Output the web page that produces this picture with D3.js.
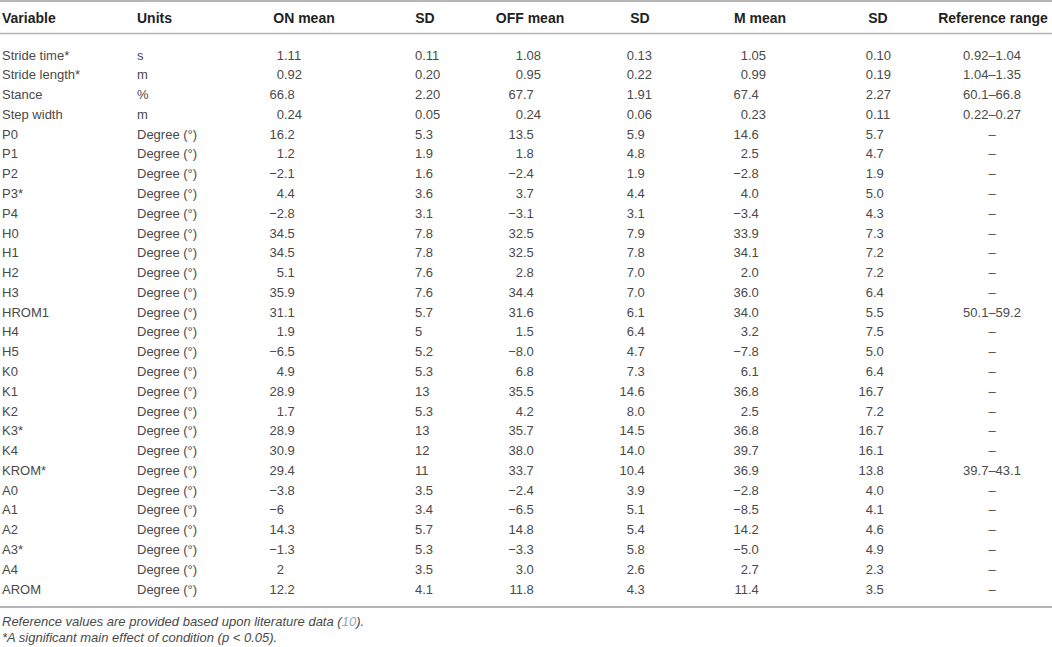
<!DOCTYPE html>
<html>
<head>
<meta charset="utf-8">
<script src="https://cdn.jsdelivr.net/npm/d3@7"></script>
<style>
  body { margin: 0; background: #fff; }
  svg text { font-family: "Liberation Sans", Arial, Helvetica, sans-serif; }
</style>
</head>
<body>
<div class="table"></div>
<script>
// table values as printed
const variables = ['Stride time*', 'Stride length*', 'Stance', 'Step width', 'P0', 'P1', 'P2', 'P3*', 'P4',
  'H0', 'H1', 'H2', 'H3', 'HROM1', 'H4', 'H5', 'K0', 'K1', 'K2', 'K3*', 'K4', 'KROM*',
  'A0', 'A1', 'A2', 'A3*', 'A4', 'AROM'];
const units = ['s', 'm', '%', 'm'].concat(d3.range(24).map(() => 'Degree (°)'));
const onMean = ['1.11', '0.92', '66.8', '0.24', '16.2', '1.2', '−2.1', '4.4', '−2.8',
  '34.5', '34.5', '5.1', '35.9', '31.1', '1.9', '−6.5', '4.9', '28.9', '1.7', '28.9', '30.9', '29.4',
  '−3.8', '−6', '14.3', '−1.3', '2', '12.2'];
const onSD = ['0.11', '0.20', '2.20', '0.05', '5.3', '1.9', '1.6', '3.6', '3.1',
  '7.8', '7.8', '7.6', '7.6', '5.7', '5', '5.2', '5.3', '13', '5.3', '13', '12', '11',
  '3.5', '3.4', '5.7', '5.3', '3.5', '4.1'];
const offMean = ['1.08', '0.95', '67.7', '0.24', '13.5', '1.8', '−2.4', '3.7', '−3.1',
  '32.5', '32.5', '2.8', '34.4', '31.6', '1.5', '−8.0', '6.8', '35.5', '4.2', '35.7', '38.0', '33.7',
  '−2.4', '−6.5', '14.8', '−3.3', '3.0', '11.8'];
const offSD = ['0.13', '0.22', '1.91', '0.06', '5.9', '4.8', '1.9', '4.4', '3.1',
  '7.9', '7.8', '7.0', '7.0', '6.1', '6.4', '4.7', '7.3', '14.6', '8.0', '14.5', '14.0', '10.4',
  '3.9', '5.1', '5.4', '5.8', '2.6', '4.3'];
const mMean = ['1.05', '0.99', '67.4', '0.23', '14.6', '2.5', '−2.8', '4.0', '−3.4',
  '33.9', '34.1', '2.0', '36.0', '34.0', '3.2', '−7.8', '6.1', '36.8', '2.5', '36.8', '39.7', '36.9',
  '−2.8', '−8.5', '14.2', '−5.0', '2.7', '11.4'];
const mSD = ['0.10', '0.19', '2.27', '0.11', '5.7', '4.7', '1.9', '5.0', '4.3',
  '7.3', '7.2', '7.2', '6.4', '5.5', '7.5', '5.0', '6.4', '16.7', '7.2', '16.7', '16.1', '13.8',
  '4.0', '4.1', '4.6', '4.9', '2.3', '3.5'];
const refRange = ['0.92–1.04', '1.04–1.35', '60.1–66.8', '0.22–0.27', '–', '–', '–', '–', '–',
  '–', '–', '–', '–', '50.1–59.2', '–', '–', '–', '–', '–', '–', '–', '39.7–43.1',
  '–', '–', '–', '–', '–', '–'];
const headers = ['Variable', 'Units', 'ON mean', 'SD', 'OFF mean', 'SD', 'M mean', 'SD', 'Reference range'];

const width = 1052, height = 647;
const textColor = '#4a4a4a';

// column layout: align = left | dec | center
const columns = [
  { values: variables, align: 'left', x: 2, hx: 2, hanchor: 'start' },
  { values: units, align: 'left', x: 137, hx: 137, hanchor: 'start' },
  { values: onMean, align: 'dec', x: 284, hx: 304 },
  { values: onSD, align: 'left', x: 415, hx: 425 },
  { values: offMean, align: 'dec', x: 523, hx: 530 },
  { values: offSD, align: 'dec', x: 634, hx: 640 },
  { values: mMean, align: 'dec', x: 748, hx: 760 },
  { values: mSD, align: 'dec', x: 873, hx: 878 },
  { values: refRange, align: 'center', x: 992, hx: 993 }
];

const svg = d3.select('.table')
  .append('svg')
  .attr('width', width)
  .attr('height', height);

const y = d3.scalePoint()
  .domain(d3.range(variables.length))
  .range([55, 589]);

// rules
const rules = [
  { y: 1, w: 2, c: '#b5b5b5' },
  { y: 33.5, w: 1.5, c: '#b5b5b5' },
  { y: 607, w: 2, c: '#b5b5b5' }
];
svg.selectAll('line.rule')
  .data(rules)
  .enter()
  .append('line')
  .attr('class', 'rule')
  .attr('x1', 0)
  .attr('x2', width)
  .attr('y1', d => d.y)
  .attr('y2', d => d.y)
  .attr('stroke', d => d.c)
  .attr('stroke-width', d => d.w);

// header
svg.selectAll('text.head')
  .data(headers)
  .enter()
  .append('text')
  .attr('class', 'head')
  .attr('x', (d, i) => columns[i].hx)
  .attr('y', 23)
  .attr('text-anchor', (d, i) => columns[i].hanchor || 'middle')
  .attr('font-size', 14)
  .attr('font-weight', 'bold')
  .attr('fill', '#222')
  .text(d => d);

// body
const body = svg.append('g').attr('fill', textColor).attr('font-size', 13);

columns.forEach((col) => {
  const g = body.append('g');
  col.values.forEach((v, r) => {
    const yy = y(r) + 4.5;
    if (col.align === 'dec') {
      const k = v.indexOf('.');
      const intPart = k < 0 ? v : v.slice(0, k);
      const frac = k < 0 ? '' : v.slice(k);
      g.append('text').attr('x', col.x).attr('y', yy).attr('text-anchor', 'end').text(intPart);
      if (frac) g.append('text').attr('x', col.x).attr('y', yy).attr('text-anchor', 'start').text(frac);
    } else {
      g.append('text')
        .attr('x', col.x)
        .attr('y', yy)
        .attr('text-anchor', col.align === 'center' ? 'middle' : 'start')
        .text(v);
    }
  });
});

// footnotes
const foot = svg.append('g')
  .attr('font-size', 13)
  .attr('font-style', 'italic')
  .attr('fill', textColor);

const f1 = foot.append('text').attr('x', 2).attr('y', 626);
f1.append('tspan').text('Reference values are provided based upon literature data (');
f1.append('tspan').attr('fill', '#8fa6bd').text('10');
f1.append('tspan').text(').');

foot.append('text').attr('x', 2).attr('y', 642)
  .text('*A significant main effect of condition (p < 0.05).');
</script>
</body>
</html>
